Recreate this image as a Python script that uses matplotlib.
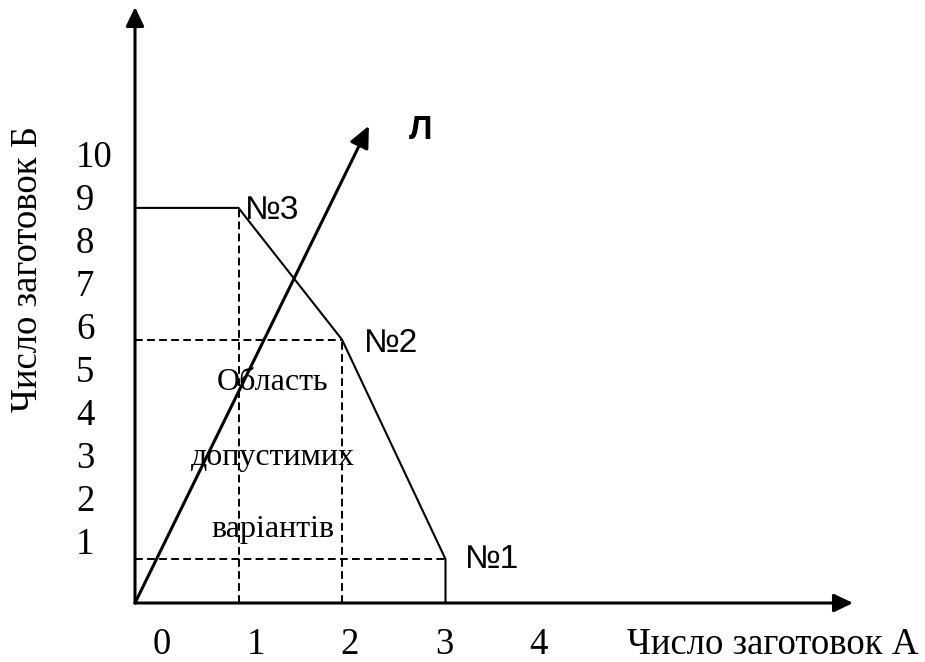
import matplotlib
matplotlib.use("Agg")
import matplotlib.pyplot as plt

# ---- data ----
region_x = [0, 1, 2, 3, 3]          # boundary of the feasible region
region_y = [9, 9, 6, 1, 0]
vertex_names = ["№3", "№2", "№1"]
vertex_x = [1, 2, 3]
vertex_y = [9, 6, 1]
dash_h = [(6, 2), (1, 3)]           # (y, x_end) horizontal dashed guides
dash_v = [(1, 9), (2, 6)]           # (x, y_end) vertical dashed guides
line_L_end = (2.26, 10.87)          # direction ray "Л"
x_tick_labels = [0, 1, 2, 3, 4]
y_tick_labels = [1, 2, 3, 4, 5, 6, 7, 8, 9, 10]
x_title = "Число заготовок А"
y_title = "Число заготовок Б"
region_text = ["Область", "допустимих", "варіантів"]

W, H = 925, 662
fig = plt.figure(figsize=(W / 100, H / 100), dpi=100)
fig.patch.set_facecolor("white")

# main drawing axes (linear scales)
X0, SX = 135.0, 103.5     # pixel of x=0, px per unit
Y0, SY = 603.0, 43.9      # pixel (from top) of y=0, px per unit
ax = fig.add_axes([0, 0, 1, 1])
ax.set_xlim(-X0 / SX, (W - X0) / SX)
ax.set_ylim((Y0 - H) / SY, Y0 / SY)
ax.axis("off")

serif = ["Liberation Serif", "DejaVu Serif"]
sans = ["Liberation Sans", "DejaVu Sans"]

# axes arrows
arrow_style = "-|>,head_length=1.15,head_width=0.55"
ax.annotate("", xy=((853 - X0) / SX, 0), xytext=(0, 0),
            arrowprops=dict(arrowstyle=arrow_style, lw=2.2, color="black",
                            mutation_scale=10, shrinkA=0, shrinkB=0))
ax.annotate("", xy=(0, (Y0 - 7) / SY), xytext=(0, 0),
            arrowprops=dict(arrowstyle=arrow_style, lw=2.2, color="black",
                            mutation_scale=10, shrinkA=0, shrinkB=0))

# dashed guides
for yv, xe in dash_h:
    ax.plot([0, xe], [yv, yv], color="black", lw=1.4, ls=(0, (4, 2.2)))
for xv, ye in dash_v:
    ax.plot([xv, xv], [0, ye], color="black", lw=1.4, ls=(0, (4, 2.2)))

# region boundary
ax.plot(region_x, region_y, color="black", lw=1.5, solid_joinstyle="miter")

# ray Л
ax.annotate("", xy=line_L_end, xytext=(0, 0),
            arrowprops=dict(arrowstyle="-|>,head_length=1.3,head_width=0.6",
                            lw=2.2, color="black",
                            mutation_scale=10, shrinkA=0, shrinkB=0))
ax.annotate("Л", xy=line_L_end, xytext=(52, -5), textcoords="offset pixels",
            ha="center", va="center", fontsize=24, fontweight="bold",
            family=sans)

# vertex labels
offsets = [(6, -3), (22, -4), (19, 0)]
for name, vx, vy, off in zip(vertex_names, vertex_x, vertex_y, offsets):
    ax.annotate(name, xy=(vx, vy), xytext=off, textcoords="offset pixels",
                ha="left", va="center", fontsize=24, family=sans)

# tick labels (independently spaced, as in the original drawing)
for k in x_tick_labels:
    fig.text((162 + 94 * k) / W, 1 - 645 / H, str(k), ha="center",
             va="center", fontsize=26.5, family=serif)
for k in y_tick_labels:
    fig.text(76 / W, 1 - (588 - 43 * k) / H, str(k), ha="left",
             va="center", fontsize=26.5, family=serif)

# titles
fig.text(627 / W, 1 - 645 / H, x_title, ha="left", va="center",
         fontsize=26.5, family=serif)
fig.text(28 / W, 1 - 269 / H, y_title, ha="center", va="center",
         rotation=90, fontsize=26.5, family=serif)

# region text
for txt, py in zip(region_text, [382, 457, 530]):
    fig.text(273 / W, 1 - py / H, txt, ha="center", va="center",
             fontsize=23, family=serif)

fig.savefig("out.png", dpi=100, facecolor="white")
